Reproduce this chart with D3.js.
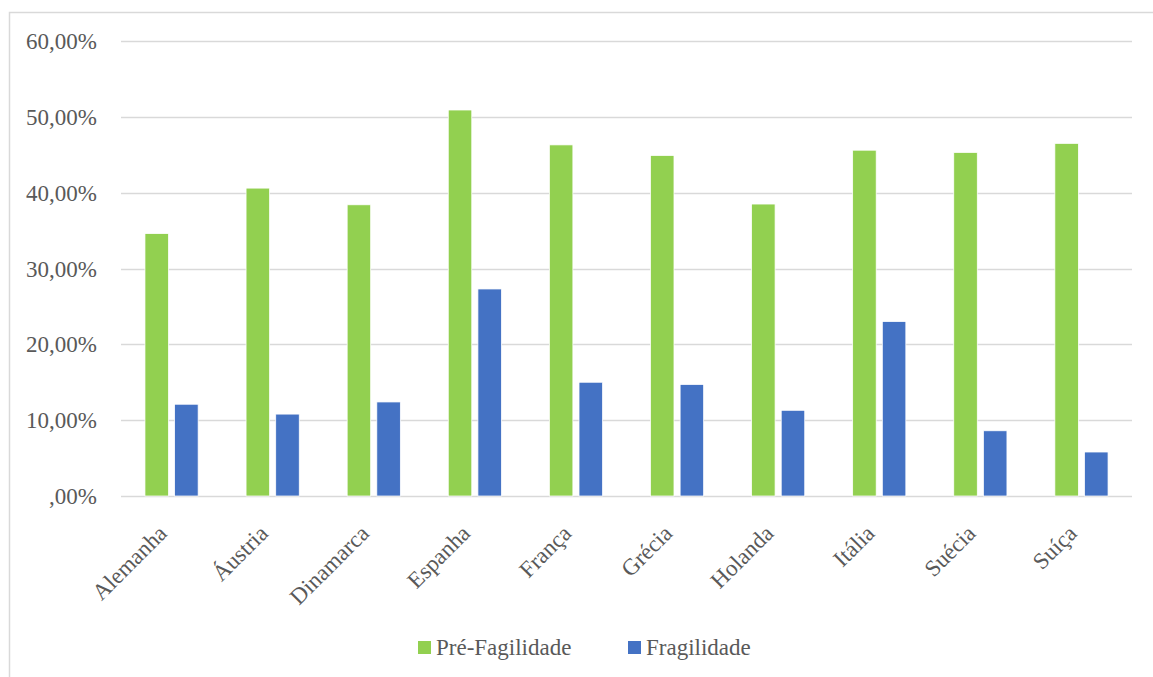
<!DOCTYPE html>
<html>
<head>
<meta charset="utf-8">
<script src="https://cdn.jsdelivr.net/npm/d3@7"></script>
<style>
  body { margin: 0; background: #fff; }
  text { font-family: "Liberation Serif", "Times New Roman", serif; fill: #595959; }
</style>
</head>
<body>
<div id="chart"></div>
<script>
// chart data
const countries = ["Alemanha", "Áustria", "Dinamarca", "Espanha", "França", "Grécia", "Holanda", "Itália", "Suécia", "Suíça"];
const seriesNames = ["Pré-Fagilidade", "Fragilidade"];
const preFragilidade = [34.6, 40.6, 38.4, 50.9, 46.3, 44.9, 38.5, 45.6, 45.3, 46.5];
const fragilidade = [12.1, 10.8, 12.4, 27.3, 15.0, 14.7, 11.3, 23.0, 8.6, 5.8];
const yTicks = [0, 10, 20, 30, 40, 50, 60];
const colors = ["#92D050", "#4472C4"];

const W = 1153, H = 677;
const margin = { top: 41, right: 21, bottom: 181, left: 121 };
const width = W - margin.left - margin.right;
const height = H - margin.top - margin.bottom;

const svg = d3.select("#chart")
  .append("svg")
  .attr("width", W)
  .attr("height", H);

// outer chart border (only top and left visible in the picture)
svg.append("rect")
  .attr("x", 9.5)
  .attr("y", 12.5)
  .attr("width", 1300)
  .attr("height", 1000)
  .attr("fill", "none")
  .attr("stroke", "#D9D9D9")
  .attr("stroke-width", 1.5);

const g = svg.append("g").attr("transform", `translate(${margin.left},${margin.top})`);

const y = d3.scaleLinear().domain([0, 60]).range([height, 0]);
const x0 = d3.scaleBand().domain(countries).range([0, width]).padding(0);
const x1 = d3.scaleBand()
  .domain(seriesNames)
  .range([x0.bandwidth() * 0.237, x0.bandwidth() * 0.763])
  .paddingInner(0.207);

// gridlines
g.selectAll(".grid")
  .data(yTicks)
  .enter()
  .append("line")
  .attr("x1", 0)
  .attr("x2", width)
  .attr("y1", d => Math.round(y(d)) + 0.5)
  .attr("y2", d => Math.round(y(d)) + 0.5)
  .attr("stroke", "#D9D9D9")
  .attr("stroke-width", 1.5);

// y axis labels
g.selectAll(".ylab")
  .data(yTicks)
  .enter()
  .append("text")
  .attr("x", -24)
  .attr("y", d => y(d))
  .attr("dy", "0.35em")
  .attr("text-anchor", "end")
  .style("font-size", "23px")
  .text(d => d === 0 ? ",00%" : d + ",00%");

const rows = countries.map((c, i) => ({ country: c, values: [preFragilidade[i], fragilidade[i]] }));

const groups = g.selectAll(".grp")
  .data(rows)
  .enter()
  .append("g")
  .attr("transform", d => `translate(${x0(d.country)},0)`);

groups.selectAll("rect")
  .data(d => d.values.map((v, j) => ({ name: seriesNames[j], value: v, j: j })))
  .enter()
  .append("rect")
  .attr("x", d => x1(d.name))
  .attr("y", d => y(d.value))
  .attr("width", x1.bandwidth())
  .attr("height", d => y(0) - y(d.value))
  .attr("fill", d => colors[d.j])
  .attr("stroke", "#fff")
  .attr("stroke-width", 0.75);

// x labels, rotated
g.selectAll(".xlab")
  .data(countries)
  .enter()
  .append("text")
  .attr("transform", d => `translate(${x0(d) + x0.bandwidth() / 2 - 9},${height + 33}) rotate(-45)`)
  .attr("text-anchor", "end")
  .attr("dy", "0.35em")
  .style("font-size", "23px")
  .text(d => d);

// legend
const legendX = [418, 628];
const legend = svg.selectAll(".leg")
  .data(seriesNames)
  .enter()
  .append("g")
  .attr("transform", (d, i) => `translate(${legendX[i]},641)`);

legend.append("rect")
  .attr("width", 13)
  .attr("height", 13)
  .attr("fill", (d, i) => colors[i]);

legend.append("text")
  .attr("x", 18)
  .attr("y", 14)
  .style("font-size", "23px")
  .text(d => d);
</script>
</body>
</html>
